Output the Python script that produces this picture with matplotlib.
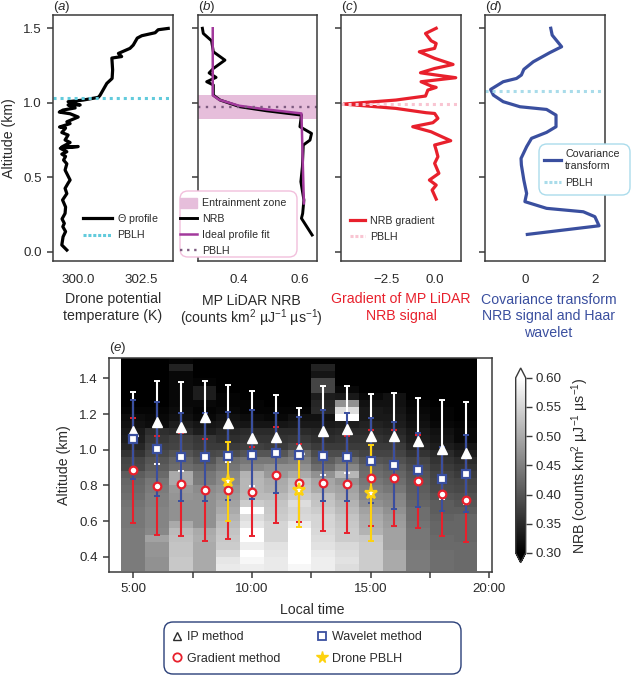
"""
Boundary layer height panels: four single profiles and a diurnal NRB curtain
"""

import matplotlib
matplotlib.use("Agg")
import matplotlib.pyplot as plt
import numpy as np
from matplotlib.colors import Normalize
from matplotlib.cm import ScalarMappable
from matplotlib.lines import Line2D
from matplotlib.patches import Patch, FancyBboxPatch
from matplotlib.transforms import IdentityTransform

plt.rcParams['font.family'] = ['Liberation Sans', 'DejaVu Sans']
plt.rcParams['mathtext.fontset'] = 'custom'
plt.rcParams['mathtext.rm'] = 'Liberation Sans'
plt.rcParams['mathtext.it'] = 'Liberation Sans:italic'
plt.rcParams['mathtext.bf'] = 'Liberation Sans:bold'

# panel (a)
theta_alt = [1.499, 1.49, 1.47, 1.45, 1.434, 1.387, 1.365, 1.331, 1.31, 1.30, 1.22, 1.163, 1.13, 1.05, 1.036,
             1.018, 1.007, 0.985, 0.985, 0.965, 0.951, 0.937, 0.926, 0.904, 0.872, 0.86, 0.837, 0.83, 0.80,
             0.783, 0.75, 0.733, 0.703, 0.706, 0.694, 0.671, 0.655, 0.64, 0.615, 0.59, 0.548, 0.481, 0.46,
             0.425, 0.39, 0.347, 0.30, 0.257, 0.22, 0.19, 0.168, 0.135, 0.10, 0.045, 0.011]
theta_k = [303.58, 303.18, 303.06, 302.53, 302.35, 302.19, 302.06, 301.6, 301.73, 301.34, 301.37, 301.35,
           301.14, 300.87, 300.8, 300.2, 299.6, 300.08, 299.6, 299.88, 299.4, 299.25, 299.68, 300.0, 299.55,
           299.68, 299.26, 299.5, 299.35, 299.6, 299.48, 299.68, 299.35, 300.0, 299.29, 299.55, 299.35,
           299.5, 299.42, 299.55, 299.48, 299.68, 299.6, 299.48, 299.55, 299.38, 299.5, 299.48, 299.36,
           299.45, 299.39, 299.5, 299.4, 299.35, 299.55]
pblh_a = 1.035

# panel (b)
nrb_alt = [1.5, 1.465, 1.416, 1.342, 1.286, 1.23, 1.2, 1.17, 1.141, 1.119, 1.051, 1.018, 0.973, 0.946, 0.917,
           0.839, 0.794, 0.749, 0.716, 0.57, 0.47, 0.347, 0.257, 0.224, 0.112]
nrb_val = [0.28, 0.283, 0.31, 0.316, 0.354, 0.316, 0.302, 0.325, 0.294, 0.316, 0.316, 0.338, 0.403, 0.49,
           0.605, 0.6, 0.638, 0.633, 0.611, 0.608, 0.603, 0.613, 0.609, 0.605, 0.64]
fit_alt = [1.5, 1.05, 1.02, 0.98, 0.955, 0.928, 0.324]
fit_val = [0.314, 0.314, 0.335, 0.40, 0.49, 0.605, 0.613]
ez_top, ez_bottom = 1.05, 0.89
pblh_b = 0.97

# panel (c)
grad_alt = [1.5, 1.465, 1.416, 1.398, 1.365, 1.342, 1.298, 1.257, 1.23, 1.201, 1.186, 1.168, 1.141, 1.112,
            1.103, 1.085, 1.045, 1.018, 0.991, 0.962, 0.933, 0.928, 0.895, 0.866, 0.839, 0.805, 0.794, 0.745,
            0.716, 0.682, 0.638, 0.593, 0.526, 0.481, 0.447, 0.414, 0.353]
grad_val = [0.05, -0.50, -0.21, 0.05, -0.03, -0.82, -0.03, 0.92, -0.03, -0.76, 0.05, 1.06, -0.73, -0.21,
            0.05, -0.38, -0.50, -2.03, -4.72, -2.03, -0.47, -0.03, 0.14, -0.12, -1.16, -0.21, -0.03, 0.8,
            -0.03, 0.05, 0.14, -0.03, 0.19, -0.3, 0.05, -0.16, 0.05]
pblh_c = 0.989

# panel (d)
cov_alt = [1.5, 1.454, 1.376, 1.336, 1.275, 1.224, 1.186, 1.163, 1.141, 1.089, 1.051, 1.007, 0.973, 0.955,
           0.917, 0.839, 0.801, 0.761, 0.705, 0.626, 0.582, 0.481, 0.391, 0.336, 0.291, 0.268, 0.235, 0.174,
           0.116]
cov_val = [0.74, 0.78, 1.05, 0.71, 0.24, -0.03, -0.1, -0.24, -0.62, -0.98, -0.9, -0.62, -0.14, 0.62, 0.89,
           0.89, 0.62, 0.19, 0.05, -0.11, -0.1, -0.03, 0.05, 0.0, 0.62, 1.67, 2.0, 2.12, 0.07]
pblh_d = 1.078

# panel (e), hourly NRB, bottom bin first, bins are 0.04 km
hours = [5, 6, 7, 8, 9, 10, 11, 12, 13, 14, 15, 16, 17, 18, 19]
nrb_05 = [.445, .445, .445, .445, .445, .445, .44, .44, .44, .435, .43, .425, .42, .41, .385, .38, .36, .345, .335, .33, .32, .315, .305, .30, .30, .30, .30, .30, .30, .30]
nrb_06 = [.47, .47, .475, .475, .49, .46, .455, .455, .455, .45, .45, .445, .44, .425, .41, .40, .385, .375, .365, .355, .315, .31, .305, .30, .30, .30, .30, .30, .30, .30]
nrb_07 = [.535, .535, .53, .53, .525, .52, .50, .47, .47, .47, .475, .48, .50, .50, .43, .42, .40, .38, .375, .35, .335, .32, .315, .31, .31, .31, .31, .31, .34, .305]
nrb_08 = [.50, .50, .50, .50, .505, .50, .47, .47, .47, .47, .47, .465, .445, .44, .42, .40, .385, .37, .365, .335, .325, .31, .305, .31, .335, .335, .305, .30, .30, .30]
nrb_09 = [.575, .57, .555, .54, .535, .53, .52, .51, .50, .49, .485, .475, .465, .46, .44, .43, .39, .37, .355, .345, .33, .32, .31, .305, .305, .30, .30, .30, .30, .30]
nrb_10 = [.58, .59, .60, .58, .60, .60, .57, .56, .60, .54, .52, .515, .515, .51, .46, .44, .40, .375, .36, .35, .325, .315, .305, .305, .30, .30, .30, .30, .30, .30]
nrb_11 = [.575, .575, .57, .565, .55, .55, .55, .54, .535, .53, .52, .505, .50, .48, .47, .44, .40, .37, .36, .35, .325, .31, .305, .30, .30, .30, .30, .30, .30, .30]
nrb_12 = [.59, .60, .60, .60, .60, .60, .58, .555, .55, .56, .54, .53, .525, .50, .47, .45, .43, .385, .365, .35, .33, .32, .305, .30, .30, .30, .30, .30, .30, .30]
nrb_13 = [.58, .58, .575, .565, .56, .555, .55, .55, .54, .53, .525, .50, .495, .47, .43, .41, .39, .37, .355, .345, .33, .32, .35, .345, .335, .38, .38, .325, .34, .30]
nrb_14 = [.56, .565, .56, .555, .54, .54, .535, .53, .52, .51, .50, .49, .475, .515, .46, .43, .39, .37, .36, .35, .335, .60, .56, .47, .33, .31, .30, .30, .30, .30]
nrb_15 = [.54, .54, .54, .54, .535, .51, .505, .50, .49, .47, .46, .45, .44, .43, .42, .40, .38, .37, .36, .35, .34, .33, .33, .32, .31, .30, .30, .30, .30, .30]
nrb_16 = [.50, .50, .50, .49, .49, .49, .485, .48, .47, .46, .455, .44, .43, .42, .41, .395, .38, .37, .355, .345, .335, .33, .325, .32, .32, .30, .30, .30, .30, .30]
nrb_17 = [.445, .445, .445, .44, .44, .44, .435, .43, .43, .42, .415, .41, .405, .40, .39, .38, .36, .345, .335, .33, .32, .315, .31, .305, .30, .30, .30, .30, .30, .30]
nrb_18 = [.43, .43, .43, .425, .425, .42, .42, .415, .41, .41, .40, .39, .385, .38, .37, .36, .35, .335, .325, .32, .31, .305, .305, .30, .30, .30, .30, .30, .30, .30]
nrb_19 = [.425, .425, .425, .425, .42, .42, .42, .42, .41, .40, .395, .385, .38, .37, .36, .35, .335, .325, .31, .31, .305, .30, .30, .30, .30, .30, .30, .30, .30, .30]

ip_height = [1.107, 1.153, 1.129, 1.181, 1.148, 1.064, 1.073, 1.006, 1.107, 1.114, 1.077, 1.078, 1.049, 1.002, 0.981]
ip_err = [0.218, 0.232, 0.249, 0.204, 0.217, 0.266, 0.234, 0.228, 0.25, 0.246, 0.237, 0.238, 0.239, 0.278, 0.284]
wavelet_height = [1.058, 1.006, 0.959, 0.959, 0.966, 0.972, 0.983, 0.970, 0.966, 0.959, 0.938, 0.912, 0.886, 0.837, 0.865]
wavelet_err = [0.222, 0.263, 0.245, 0.248, 0.247, 0.248, 0.223, 0.215, 0.256, 0.248, 0.238, 0.245, 0.206, 0.181, 0.217]
gradient_height = [0.884, 0.798, 0.807, 0.774, 0.772, 0.764, 0.858, 0.813, 0.815, 0.807, 0.841, 0.841, 0.822, 0.751, 0.718]
gradient_err = [0.295, 0.278, 0.289, 0.284, 0.273, 0.25, 0.267, 0.218, 0.272, 0.272, 0.268, 0.267, 0.263, 0.235, 0.235]
drone_hours = [9, 12, 15]
drone_height = [0.822, 0.772, 0.757]
drone_err = [0.224, 0.204, 0.27]

INK = '#2b2b2b'
RED = '#e8202c'
BLUE = '#3a4f9f'
GOLD = '#fdd20e'
PURPLE = '#a2399c'
FS = 9.6
LABEL_FS = 10.2
LEG_FS = 7.7
W, H = 632, 675


def px_axes(fig, x0, y0, x1, y1):
    """add axes from pixel edges, y measured from the top"""
    ax = fig.add_axes([x0 / W, 1 - y1 / H, (x1 - x0) / W, (y1 - y0) / H])
    for s in ax.spines.values():
        s.set_linewidth(1.1)
        s.set_color('#3a3a3a')
    ax.tick_params(length=4, width=1.1, color='#3a3a3a', labelcolor=INK, labelsize=FS, pad=4)
    return ax


def panel_label(ax, letter, y):
    ax.text(0.0, y, r'($\mathit{%s}$)' % letter, transform=ax.transAxes, fontsize=FS,
            color=INK, ha='left', va='baseline')


def px_box(ax, x0, y0, x1, y1, edge, radius):
    """rounded legend box drawn straight in pixels, it can hang over the axes edge"""
    box = FancyBboxPatch((x0, H - y1), x1 - x0, y1 - y0, boxstyle='round,pad=0,rounding_size=%g' % radius,
                         transform=IdentityTransform(), fc='white', ec=edge, lw=1.0, clip_on=False, zorder=19)
    ax.add_patch(box)


def px_legend(ax, handles, x, y, fs=LEG_FS, **kw):
    """frameless legend with its top left corner at pixel x, y"""
    leg = ax.legend(handles=handles, loc='upper left',
                    bbox_to_anchor=(x / W, 1 - y / H), bbox_transform=ax.figure.transFigure,
                    fontsize=fs, frameon=False, borderpad=0, borderaxespad=0, labelcolor=INK, **kw)
    leg.set_zorder(20)
    return leg


fig = plt.figure(figsize=(W / 100, H / 100), dpi=100)

PROFILE_YLIM = (-0.0625, 1.589)
ax_a = px_axes(fig, 53, 15, 173, 261)
ax_b = px_axes(fig, 198, 15, 317, 261)
ax_c = px_axes(fig, 341, 15, 461, 261)
ax_d = px_axes(fig, 485, 15, 605, 261)

for ax, letter in zip([ax_a, ax_b, ax_c, ax_d], 'abcd'):
    ax.set_ylim(*PROFILE_YLIM)
    ax.set_yticks([0.0, 0.5, 1.0, 1.5])
    ax.tick_params(axis='x', length=0, pad=9)
    panel_label(ax, letter, 1.02)
for ax in [ax_b, ax_c, ax_d]:
    ax.set_yticklabels([])

# (a)
ax_a.plot(theta_k, theta_alt, color='black', lw=2.3)
ax_a.axhline(pblh_a, color='#62cbdc', lw=2.2, ls=(0, (1, 1.3)))
ax_a.set_xlim(299.0, 303.77)
ax_a.set_xticks([300.0, 302.5])
ax_a.set_xticklabels(['300.0', '302.5'])
ax_a.set_ylabel('Altitude (km)', fontsize=LABEL_FS, color=INK, labelpad=5)
ax_a.set_xlabel('Drone potential\ntemperature (K)', fontsize=LABEL_FS, color=INK, labelpad=5)
px_legend(ax_a, [Line2D([], [], color='black', lw=2.3, label=r'$\mathit{\Theta}$ profile'),
                 Line2D([], [], color='#62cbdc', lw=2.2, ls=(0, (1, 0.6)), label='PBLH')],
          83, 212, handlelength=2.7, handletextpad=0.47, labelspacing=0.42)

# (b)
ax_b.axhspan(ez_bottom, ez_top, color='#e6bedb', lw=0)
ax_b.plot(nrb_val, nrb_alt, color='black', lw=2.1)
ax_b.plot(fit_val, fit_alt, color=PURPLE, lw=1.8)
ax_b.axhline(pblh_b, color='#7d5b80', lw=1.7, ls=(0, (1, 2.3)))
ax_b.set_xlim(0.2656, 0.656)
ax_b.set_xticks([0.4, 0.6])
ax_b.set_xlabel('MP LiDAR NRB\n' + r'(counts km$^{2}$ µJ$^{-1}$ µs$^{-1}$)', fontsize=LABEL_FS, color=INK,
                labelpad=6, linespacing=1.0)
ax_b.xaxis.label.set_x(0.45)
px_box(ax_b, 180, 191, 297, 257, '#f2bfdc', 8)
px_legend(ax_b, [Patch(color='#e6bedb', label='Entrainment zone'),
                 Line2D([], [], color='black', lw=2.1, label='NRB'),
                 Line2D([], [], color=PURPLE, lw=1.8, label='Ideal profile fit'),
                 Line2D([], [], color='#7d5b80', lw=1.7, ls=(0, (1, 2)), label='PBLH')],
          180, 198, handlelength=1.6, handleheight=1.0, handletextpad=0.44, labelspacing=0.52)

# (c)
ax_c.plot(grad_val, grad_alt, color=RED, lw=2.3)
ax_c.axhline(pblh_c, color='#f9c5d2', lw=2.2, ls=(0, (1, 1.3)))
ax_c.set_xlim(-4.86, 1.33)
ax_c.set_xticks([-2.5, 0.0])
ax_c.set_xticklabels(['\u22122.5', '0.0'])
ax_c.set_xlabel('Gradient of MP LiDAR\nNRB signal', fontsize=LABEL_FS, color=RED, labelpad=5)
px_legend(ax_c, [Line2D([], [], color=RED, lw=2.3, label='NRB gradient'),
                 Line2D([], [], color='#f9c5d2', lw=2.2, ls=(0, (1, 0.6)), label='PBLH')],
          350, 216, handlelength=1.4, handletextpad=0.5, labelspacing=0.54)

# (d)
ax_d.plot(cov_val, cov_alt, color=BLUE, lw=2.3)
ax_d.axhline(pblh_d, color='#a9dcea', lw=2.2, ls=(0, (1, 1.3)))
ax_d.set_xlim(-1.14, 2.29)
ax_d.set_xticks([0, 2])
ax_d.set_xlabel('Covariance transform\nNRB signal and Haar\nwavelet', fontsize=LABEL_FS, color=BLUE, labelpad=5.5)
ax_d.xaxis.label.set_x(0.53)
px_box(ax_d, 539, 144, 630, 195, '#abdcec', 8)
px_legend(ax_d, [Line2D([], [], color=BLUE, lw=2.3, label='Covariance\ntransform'),
                 Line2D([], [], color='#a9dcea', lw=2.2, ls=(0, (1, 0.6)), label='PBLH')],
          544, 149, handlelength=1.55, handletextpad=0.45, labelspacing=0.7)

# (e)
ax_e = px_axes(fig, 109, 357.7, 491.7, 571.7)
nrb_grid = np.array([nrb_05, nrb_06, nrb_07, nrb_08, nrb_09, nrb_10, nrb_11, nrb_12,
                     nrb_13, nrb_14, nrb_15, nrb_16, nrb_17, nrb_18, nrb_19]).T
hour_edges = np.arange(4.5, 20.0, 1.0)
alt_edges = np.linspace(0.32, 1.52, nrb_grid.shape[0] + 1)
norm = Normalize(0.30, 0.60)
ax_e.pcolormesh(hour_edges, alt_edges, nrb_grid, cmap='gray', norm=norm, shading='flat', rasterized=True)
ax_e.set_xlim(3.975, 20.1)
ax_e.set_ylim(0.316, 1.516)
ax_e.set_yticks([0.4, 0.6, 0.8, 1.0, 1.2, 1.4])
ax_e.set_xticks([5, 7.5, 10, 12.5, 15, 17.5, 20])
ax_e.set_xticklabels(['5:00', '', '10:00', '', '15:00', '', '20:00'])
ax_e.set_xlabel('Local time', fontsize=LABEL_FS, color=INK, labelpad=6)
ax_e.xaxis.label.set_x(0.53)
ax_e.set_ylabel('Altitude (km)', fontsize=LABEL_FS, color=INK, labelpad=6)
panel_label(ax_e, 'e', 1.031)

err_style = dict(fmt='none', capsize=2.3, elinewidth=1.5, capthick=1.4)
ax_e.errorbar(hours, ip_height, yerr=ip_err, ecolor='white', zorder=3, **err_style)
ax_e.errorbar(hours, gradient_height, yerr=gradient_err, ecolor=RED, zorder=4, **err_style)
ax_e.errorbar(hours, wavelet_height, yerr=wavelet_err, ecolor=BLUE, zorder=5, **err_style)
ax_e.errorbar(drone_hours, drone_height, yerr=drone_err, ecolor=GOLD, zorder=6, **err_style)
ax_e.plot(hours, ip_height, ls='none', marker='^', ms=7.5, mfc='white', mec='white', zorder=7)
ax_e.plot(hours, wavelet_height, ls='none', marker='s', ms=5.5, mfc='white', mec=BLUE, mew=1.6, zorder=8)
ax_e.plot(hours, gradient_height, ls='none', marker='o', ms=5.5, mfc='white', mec=RED, mew=1.6, zorder=9)
ax_e.plot(drone_hours, drone_height, ls='none', marker='*', ms=9.5, mfc='white', mec=GOLD, mew=1.6, zorder=10)

leg_handles = [
    Line2D([], [], ls='none', marker='^', ms=6, mfc='white', mec=INK, mew=1.0, label='IP method'),
    Line2D([], [], ls='none', marker='o', ms=6, mfc='white', mec=RED, mew=1.3, label='Gradient method'),
    Line2D([], [], ls='none', marker='s', ms=6, mfc='white', mec=BLUE, mew=1.3, label='Wavelet method'),
    Line2D([], [], ls='none', marker='*', ms=8.5, mfc=GOLD, mec=GOLD, label='Drone PBLH'),
]
px_box(ax_e, 164, 622, 461, 674, '#2a3f78', 9)
px_legend(ax_e, leg_handles, 170.4, 631, fs=9.0, ncol=2, columnspacing=2.82, handlelength=1.0,
          handletextpad=0.3, labelspacing=0.78)

# colour bar
cax = fig.add_axes([515.7 / W, 1 - 562.7 / H, 10 / W, 194.7 / H])
cmap = plt.get_cmap('gray').copy()
cb = fig.colorbar(ScalarMappable(norm=norm, cmap=cmap), cax=cax, extend='both', extendfrac=0.056)
cb.set_ticks([0.30, 0.35, 0.40, 0.45, 0.50, 0.55, 0.60])
cb.ax.set_yticklabels(['0.30', '0.35', '0.40', '0.45', '0.50', '0.55', '0.60'])
cb.ax.tick_params(length=4, width=1.0, color='#3a3a3a', labelcolor=INK, labelsize=FS, pad=3)
cb.outline.set_edgecolor('#3a3a3a')
cb.outline.set_linewidth(1.0)
cb.set_label(r'NRB (counts km$^{2}$ µJ$^{-1}$ µs$^{-1}$)', fontsize=LABEL_FS, color=INK, labelpad=6)

fig.savefig('out.png', dpi=100)
